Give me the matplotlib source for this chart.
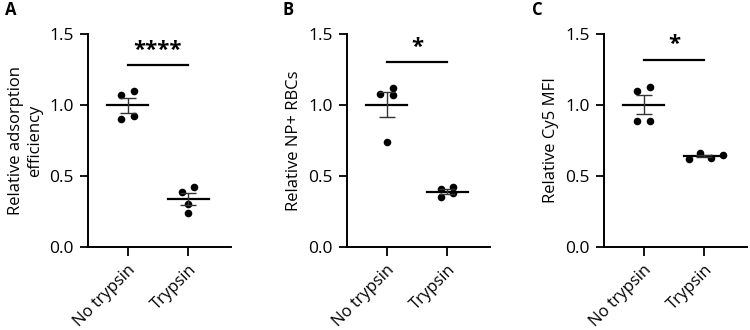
import numpy as np
import matplotlib
matplotlib.use("Agg")
import matplotlib.pyplot as plt

plt.rcParams["font.family"] = ["Open Sans", "DejaVu Sans"]

groups = ["No trypsin", "Trypsin"]

# relative values (n = 4 per group)
adsorption_no = [1.07, 1.10, 0.90, 0.92]
adsorption_tryp = [0.39, 0.42, 0.30, 0.24]
np_rbc_no = [1.08, 1.12, 1.07, 0.74]
np_rbc_tryp = [0.41, 0.42, 0.38, 0.35]
cy5_no = [1.10, 1.13, 0.89, 0.89]
cy5_tryp = [0.62, 0.66, 0.63, 0.65]

panel_letters = ["A", "B", "C"]
ylabels = ["Relative adsorption\nefficiency", "Relative NP+ RBCs", "Relative Cy5 MFI"]
stars = ["****", "*", "*"]

# horizontal spread of the dots (scatter layout only)
spread = [
    ([-0.1, 0.1, -0.1, 0.1], [-0.1, 0.1, 0.0, 0.0]),
    ([-0.1, 0.1, 0.1, 0.0], [-0.1, 0.1, 0.1, -0.1]),
    ([-0.1, 0.1, -0.1, 0.1], [-0.26, -0.08, 0.11, 0.3]),
]
bar_heights = [1.28, 1.30, 1.32]

data = [(adsorption_no, adsorption_tryp), (np_rbc_no, np_rbc_tryp), (cy5_no, cy5_tryp)]

fig = plt.figure(figsize=(7.5, 3.3), dpi=100)
lefts = [88, 347, 604]
letter_x = [5, 283, 532]
for i in range(3):
    ax = fig.add_axes([lefts[i] / 750, 1 - 247 / 330, 143 / 750, 213 / 330])
    for j, vals in enumerate(data[i]):
        vals = np.array(vals)
        x = j + np.array(spread[i][j])
        ax.scatter(x, vals, s=30, color="black", zorder=3, linewidths=0)
        m = vals.mean()
        sem = vals.std(ddof=1) / np.sqrt(len(vals))
        ax.plot([j - 0.34, j + 0.34], [m, m], color="black", lw=1.6, zorder=4)
        ax.errorbar(j, m, yerr=sem, color="#333333", lw=1.0, capsize=5.5,
                    capthick=1.0, zorder=4)
    # significance bar
    h = bar_heights[i]
    ax.plot([0, 1], [h, h], color="black", lw=1.6, clip_on=False)
    ax.text(0.5, h + 0.03, stars[i], ha="center", va="bottom", fontsize=16,
            fontweight="bold")

    ax.set_xlim(-0.65, 1.7)
    ax.set_ylim(0, 1.5)
    ax.set_yticks([0, 0.5, 1.0, 1.5])
    ax.set_yticklabels(["0.0", "0.5", "1.0", "1.5"])
    ax.set_xticks([0, 1])
    ax.set_xticklabels(groups, rotation=45, ha="right", rotation_mode="anchor")
    ax.tick_params(axis="y", labelsize=12.5, width=1.3, length=6, pad=4)
    ax.tick_params(axis="x", labelsize=12, width=1.3, length=6.5, pad=4)
    ax.spines["top"].set_visible(False)
    ax.spines["right"].set_visible(False)
    ax.spines["left"].set_linewidth(1.4)
    ax.spines["bottom"].set_linewidth(1.4)
    ax.set_ylabel(ylabels[i], fontsize=12, linespacing=1.25, labelpad=5)
    fig.text(letter_x[i] / 750, 1 - 10 / 330, panel_letters[i],
             fontsize=12, fontweight="bold", va="center", ha="left")

fig.savefig("out.png", dpi=100)
